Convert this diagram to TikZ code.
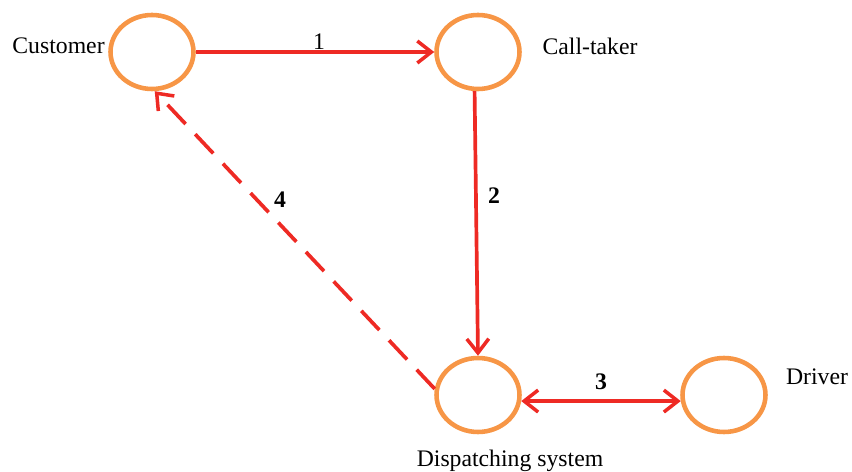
\documentclass[tikz,border=0pt]{standalone}
\usepackage{fontspec}
\setmainfont{Liberation Serif}
\usetikzlibrary{positioning, arrows.meta, shapes.geometric}
\definecolor{cnoeud}{HTML}{F79646}
\definecolor{cfleche}{HTML}{EE2A24}

\begin{document}
\begin{tikzpicture}[x=0.02cm, y=-0.02cm,
    agent/.style={ellipse, draw=cnoeud, line width=2.6pt, fill=white,
                  minimum width=1.66cm, minimum height=1.48cm, inner sep=0pt},
    nom/.style={font=\fontsize{13.5}{16}\selectfont, inner sep=0pt},
    num/.style={font=\fontsize{13.5}{16}\selectfont\bfseries, inner sep=0pt},
    flux/.style={-{Straight Barb[length=8pt, width=12.5pt, line width=2pt]},
                 cfleche, line width=2.1pt},
    retour/.style={flux, dash pattern=on 15pt off 8pt}]
  \useasboundingbox (0,0) rectangle (852,472);

  \node[agent] (cust)  at (152,52)  {};
  \node[agent] (taker) at (478,52)  {};
  \node[agent] (disp)  at (478,395) {};
  \node[agent] (drv)   at (724,395) {};

  \node[nom, anchor=east] at (105,46) {Customer};
  \node[nom] at (590,46) {Call-taker};
  \node[nom] at (510,461) {Dispatching system};
  \node[nom] at (817,377) {Driver};

  \draw[flux] (cust.east) -- (taker.west);
  \draw[flux] (taker.-95) -- (disp.north);
  \draw[flux, {Straight Barb[length=8pt, width=12.5pt, line width=2pt]}-{Straight Barb[length=8pt, width=12.5pt, line width=2pt]}]
    (disp.-8) -- (drv.188);
  \draw[retour] (disp.172) -- (cust.-86);

  \node[nom] at (319,42) {1};
  \node[num] at (494,196) {2};
  \node[num] at (601,382) {3};
  \node[num] at (280,200) {4};
\end{tikzpicture}
\end{document}
